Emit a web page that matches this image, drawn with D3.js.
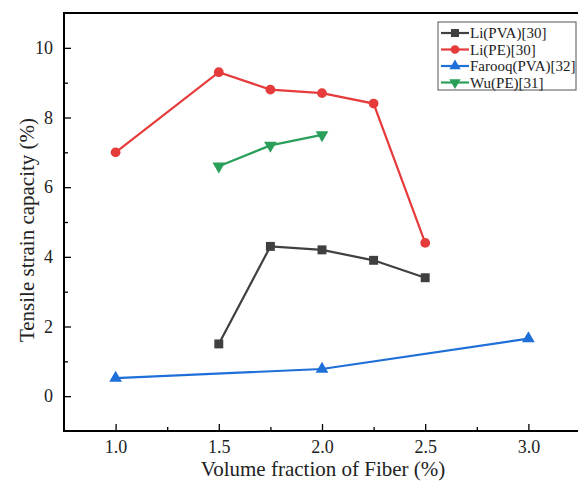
<!DOCTYPE html>
<html>
<head>
<meta charset="utf-8">
<script src="https://cdn.jsdelivr.net/npm/d3@7"></script>
<style>
  body { margin: 0; background: #fff; }
  svg text { font-family: "Liberation Serif", "Times New Roman", "DejaVu Serif", serif !important; }
</style>
</head>
<body>
<div id="chart"></div>
<script>
const seriesNames = ["Li(PVA)[30]", "Li(PE)[30]", "Farooq(PVA)[32]", "Wu(PE)[31]"];
const liPvaX = [1.5, 1.75, 2.0, 2.25, 2.5];
const liPvaY = [1.5, 4.3, 4.2, 3.9, 3.4];
const liPeX = [1.0, 1.5, 1.75, 2.0, 2.25, 2.5];
const liPeY = [7.0, 9.3, 8.8, 8.7, 8.4, 4.4];
const farooqX = [1.0, 2.0, 3.0];
const farooqY = [0.52, 0.78, 1.65];
const wuX = [1.5, 1.75, 2.0];
const wuY = [6.6, 7.2, 7.5];
const xTicks = [1.0, 1.5, 2.0, 2.5, 3.0];
const yTicks = [0, 2, 4, 6, 8, 10];

const W = 578, H = 491;
const margin = { top: 13, right: -2, bottom: 60, left: 64 };

const series = [
  { name: seriesNames[0], xs: liPvaX, ys: liPvaY, color: "#404040", symbol: d3.symbolSquare, size: 80 },
  { name: seriesNames[1], xs: liPeX, ys: liPeY, color: "#e63b3b", symbol: d3.symbolCircle, size: 75 },
  { name: seriesNames[2], xs: farooqX, ys: farooqY, color: "#1f6fd8", symbol: d3.symbolTriangle, size: 70, rot: 0 },
  { name: seriesNames[3], xs: wuX, ys: wuY, color: "#2a9f5a", symbol: d3.symbolTriangle, size: 70, rot: 180 }
];

const svg = d3.select("#chart").append("svg")
  .attr("width", W).attr("height", H);

const x = d3.scaleLinear().domain([0.75, 3.25]).range([margin.left, W - margin.right]);
const y = d3.scaleLinear().domain([-1, 11]).range([H - margin.bottom, margin.top]);

// frame
svg.append("rect")
  .attr("x", x(0.75)).attr("y", y(11))
  .attr("width", x(3.25) - x(0.75)).attr("height", y(-1) - y(11))
  .attr("fill", "none").attr("stroke", "#000").attr("stroke-width", 2);

// bottom axis, ticks inward
const xAxis = svg.append("g")
  .attr("transform", "translate(0," + y(-1) + ")")
  .call(d3.axisBottom(x).tickValues(xTicks).tickFormat(d3.format(".1f")).tickSize(-7).tickPadding(9));
xAxis.select(".domain").remove();
xAxis.selectAll("text").attr("font-size", "18px").attr("fill", "#222");
xAxis.selectAll("line").attr("stroke-width", 1.3);

svg.append("g")
  .attr("transform", "translate(0," + y(-1) + ")")
  .call(d3.axisBottom(x).tickValues([1.25, 1.75, 2.25, 2.75]).tickFormat("").tickSize(-4))
  .call(g => g.select(".domain").remove())
  .selectAll("line").attr("stroke-width", 1.3);

// left axis, ticks inward
const yAxis = svg.append("g")
  .attr("transform", "translate(" + x(0.75) + ",0)")
  .call(d3.axisLeft(y).tickValues(yTicks).tickSize(-7).tickPadding(11));
yAxis.select(".domain").remove();
yAxis.selectAll("text").attr("font-size", "18px").attr("fill", "#222");
yAxis.selectAll("line").attr("stroke-width", 1.3);

svg.append("g")
  .attr("transform", "translate(" + x(0.75) + ",0)")
  .call(d3.axisLeft(y).tickValues([1, 3, 5, 7, 9]).tickFormat("").tickSize(-4))
  .call(g => g.select(".domain").remove())
  .selectAll("line").attr("stroke-width", 1.3);

// axis titles
svg.append("text")
  .attr("x", (x(0.75) + x(3.25)) / 2 + 1).attr("y", 476)
  .attr("text-anchor", "middle").attr("font-size", "21px").attr("fill", "#222")
  .text("Volume fraction of Fiber (%)");

svg.append("text")
  .attr("transform", "translate(34," + ((y(11) + y(-1)) / 2 + 8) + ") rotate(-90)")
  .attr("text-anchor", "middle").attr("font-size", "21px").attr("fill", "#222")
  .text("Tensile strain capacity (%)");

// lines and markers
const line = d3.line().x(d => x(d[0])).y(d => y(d[1]));
series.forEach(s => {
  const pts = s.xs.map((v, i) => [v, s.ys[i]]);
  svg.append("path")
    .datum(pts)
    .attr("d", line)
    .attr("fill", "none")
    .attr("stroke", s.color)
    .attr("stroke-width", 2.2);
  svg.append("g").selectAll("path")
    .data(pts)
    .enter().append("path")
    .attr("d", d3.symbol().type(s.symbol).size(s.size))
    .attr("transform", d => "translate(" + x(d[0]) + "," + y(d[1]) + ")" + (s.rot ? " rotate(" + s.rot + ")" : ""))
    .attr("fill", s.color);
});

// legend
const lg = svg.append("g");
lg.append("rect")
  .attr("x", 438).attr("y", 22).attr("width", 138).attr("height", 68)
  .attr("fill", "#fff").attr("stroke", "#555").attr("stroke-width", 1);
series.forEach((s, i) => {
  const yy = 33 + i * 16.5;
  lg.append("line")
    .attr("x1", 441).attr("x2", 469).attr("y1", yy).attr("y2", yy)
    .attr("stroke", s.color).attr("stroke-width", 2.2);
  lg.append("path")
    .attr("d", d3.symbol().type(s.symbol).size(s.size * 0.8))
    .attr("transform", "translate(455," + yy + ")" + (s.rot ? " rotate(" + s.rot + ")" : ""))
    .attr("fill", s.color);
  lg.append("text")
    .attr("x", 470).attr("y", yy + 5)
    .attr("font-size", "15px").attr("fill", "#222")
    .text(s.name);
});
</script>
</body>
</html>
